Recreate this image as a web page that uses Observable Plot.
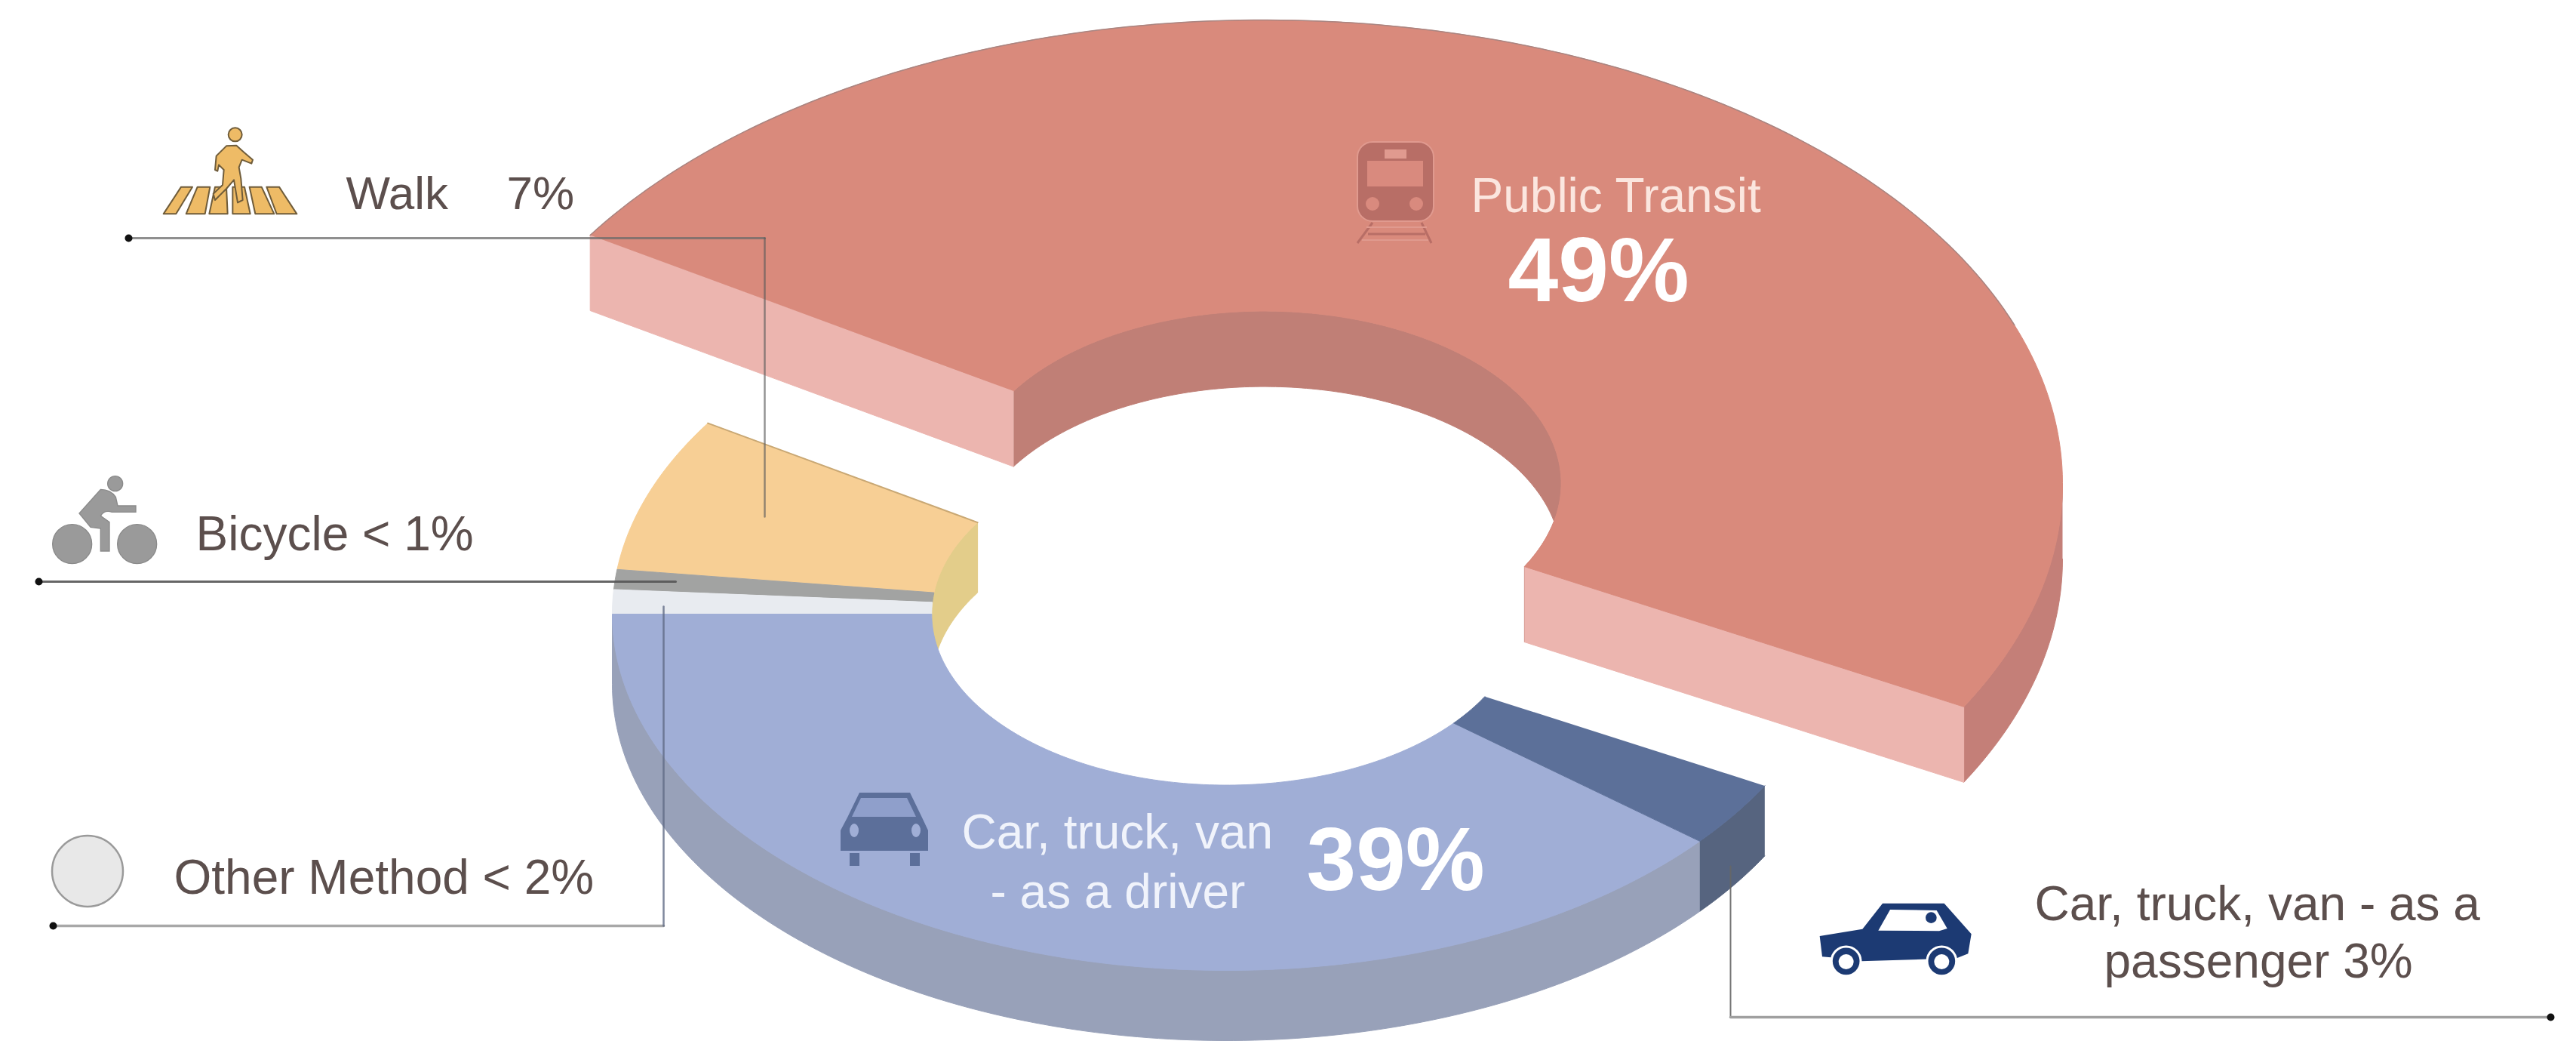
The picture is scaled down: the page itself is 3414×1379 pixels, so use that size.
<!DOCTYPE html>
<html>
<head>
<meta charset="utf-8">
<style>html,body{margin:0;padding:0;background:#fff;overflow:hidden}svg{display:block}</style>
<script src="https://cdn.jsdelivr.net/npm/d3@7"></script>
<script src="https://cdn.jsdelivr.net/npm/@observablehq/plot@0.6"></script>
</head>
<body>
<script>
// ---- chart values (percent of commuters) ----
const modes  = ["Public Transit", "Passenger", "Driver", "Other Method", "Bicycle", "Walk"];
const shares = [49, 3, 39, 1.1, 0.9, 7];

// ---- styles ----
const faceColors = ["#d98a7c", "#5c7099", "#a0aed6", "#e8ebf0", "#a2a3a2", "#f7cf95"];
const wallColors = ["#c47f78", "#56647f", "#98a1b9", null, null, null];
const cutColor = "#ecb5af", innerRedColor = "#c07f76", innerTanColor = "#e3cd8a";
const textDark = "#5c4f4d", font = "Liberation Sans, Arial, sans-serif";

// ---- projection of the two donut pieces ----
const W = 3414, H = 1379;
const startAngle = 212.4;
const topPiece = {cx: 1675, cy: 640, a: 1058, b: 614, hole: 0.372, depth: 100};
const lowPiece = {cx: 1625, cy: 813, a: 814,  b: 472, hole: 0.48,  depth: 93};
const pieceOf = [topPiece, lowPiece, lowPiece, lowPiece, lowPiece, lowPiece];

const total = d3.sum(shares);
const bounds = d3.cumsum(shares).map(c => c / total * 360);
const angles = shares.map((s, i) => [startAngle + (i ? bounds[i - 1] : 0), startAngle + bounds[i]]);

const pt = (p, deg, radius = 1, drop = 0) => {
  const t = deg * Math.PI / 180;
  return {x: p.cx + p.a * radius * Math.cos(t), y: p.cy + p.b * radius * Math.sin(t) + drop};
};
const arc = (p, from, to, radius = 1, drop = 0) => {
  const n = Math.max(2, Math.ceil(Math.abs(to - from)));
  return d3.range(n + 1).map(k => pt(p, from + (to - from) * k / n, radius, drop));
};
const face = i => {
  const p = pieceOf[i], [a0, a1] = angles[i];
  return [...arc(p, a0, a1), ...arc(p, a1, a0, p.hole)];
};
const band = (p, a0, a1, radius) => [...arc(p, a0, a1, radius), ...arc(p, a1, a0, radius, p.depth)];
const cut = (p, deg) => [pt(p, deg, p.hole), pt(p, deg, 1), pt(p, deg, 1, p.depth), pt(p, deg, p.hole, p.depth)];

const [t0, t1] = angles[0];
const polygons = [
  // top piece
  {points: band(topPiece, t0, t1, topPiece.hole), fill: innerRedColor},
  {points: band(topPiece, 360, t1, 1), fill: wallColors[0]},
  {points: cut(topPiece, t0), fill: cutColor},
  {points: cut(topPiece, t1), fill: cutColor},
  {points: face(0), fill: faceColors[0]},
  // lower piece
  {points: band(lowPiece, 180, angles[5][1] - 360, lowPiece.hole), fill: innerTanColor},
  {points: band(lowPiece, angles[1][0] - 360, angles[1][1] - 360, 1), fill: wallColors[1]},
  {points: band(lowPiece, angles[2][0] - 360, 180, 1), fill: wallColors[2]},
  ...[5, 4, 3, 2, 1].map(i => ({points: face(i), fill: faceColors[i]}))
];

// thin darker rims seen along the far edges of the faces
const rims = [
  {points: arc(topPiece, t0, 340), stroke: "#a98581", width: 1.5},
  {points: [pt(lowPiece, angles[5][1] - 360, 1), pt(lowPiece, angles[5][1] - 360, lowPiece.hole)], stroke: "#c9a874", width: 2}
];

// ---- leader lines ----
const leaders = [
  {points: [{x: 170, y: 315}, {x: 1013, y: 315}], stroke: "#6a6a6a", width: 3, opacity: 0.75},
  {points: [{x: 1013, y: 315}, {x: 1013, y: 684}], stroke: "#5a5a5a", width: 2.5, opacity: 0.65},
  {points: [{x: 51, y: 770}, {x: 895, y: 770}], stroke: "#555555", width: 3, opacity: 0.9},
  {points: [{x: 70, y: 1226}, {x: 879, y: 1226}], stroke: "#a8a8a8", width: 3.5, opacity: 1},
  {points: [{x: 879, y: 1226}, {x: 879, y: 803}], stroke: "#5f6a85", width: 2.5, opacity: 0.8},
  {points: [{x: 2293, y: 1147}, {x: 2293, y: 1347}], stroke: "#666666", width: 2, opacity: 0.9},
  {points: [{x: 2293, y: 1347}, {x: 3380, y: 1347}], stroke: "#a0a0a0", width: 3.5, opacity: 1}
];
const leaderDots = [{x: 170, y: 315}, {x: 51, y: 770}, {x: 70, y: 1226}, {x: 3380, y: 1347}];

// ---- labels ----
const labels = [
  {x: 458,  y: 276,  text: "Walk", fill: textDark, size: 62},
  {x: 671,  y: 276,  text: "7%", fill: textDark, size: 62},
  {x: 259,  y: 728,  text: "Bicycle < 1%", fill: textDark, size: 64},
  {x: 230,  y: 1183, text: "Other Method < 2%", fill: textDark, size: 64},
  {x: 2696, y: 1218, text: "Car, truck, van - as a", fill: textDark, size: 64},
  {x: 2788, y: 1294, text: "passenger 3%", fill: textDark, size: 64},
  {x: 1949, y: 280,  text: "Public Transit", fill: "#fbe6df", size: 64},
  {x: 1998, y: 398,  text: "49%", fill: "#ffffff", size: 120, weight: "bold"},
  {x: 1274, y: 1123, text: "Car, truck, van", fill: "#f0f3fb", size: 64},
  {x: 1312, y: 1202, text: "- as a driver", fill: "#f0f3fb", size: 64},
  {x: 1731, y: 1178, text: "39%", fill: "#ffffff", size: 118, weight: "bold"}
];

// ---- pictograms, each a little svg fragment placed through the scales ----
const icons = [
  {x: 200, y: 150, sx: 1/3, sy: 1/3, svg: `
    <g fill="#eebb66" stroke="#6f5c3a" stroke-width="6" stroke-linejoin="round">
      <path d="M120,293L165,293L100,400L50,400Z"/><path d="M185,293L235,293L215,400L140,400Z"/>
      <path d="M255,293L300,293L305,400L232,400Z"/><path d="M325,293L372,293L395,400L325,400Z"/>
      <path d="M392,293L440,293L490,400L415,400Z"/><path d="M460,293L510,293L580,400L500,400Z"/>
      <path d="M300,130L340,128L370,155L405,185L400,200L362,185L350,215L358,260L365,345L345,355L330,265L300,300L255,345L248,320L285,285L290,225L270,205L265,230L255,225L260,170Z"/>
      <circle cx="335" cy="85" r="27"/>
    </g>`},
  {x: 50, y: 620, sx: 1/3, sy: 1/3, svg: `
    <g fill="#9a9a9a" stroke="#8a8a8a" stroke-width="4">
      <circle cx="137" cy="302" r="78"/><circle cx="395" cy="302" r="78"/><circle cx="308" cy="62" r="30"/>
      <path d="M250,85Q290,85 310,115L318,150L390,150L390,175L295,175Q265,165 250,190L285,215L285,330L250,330L250,240L210,235L165,180Z"/>
    </g>`},
  {x: 116, y: 1154, sx: 1, sy: 1, svg: `<ellipse cx="0" cy="0" rx="47" ry="47" fill="#e8e8e8" stroke="#9a9a9a" stroke-width="2.5"/>`},
  {x: 2390, y: 1180, sx: 1/3, sy: 1/3, svg: `
    <path fill="#1c3a73" d="M65,180L235,152L315,50L560,50L668,172L655,250L610,268L230,280L110,265L75,262Z"/>
    <path fill="#fff" d="M298,158L345,75L530,78L572,150L540,160Z"/>
    <circle cx="508" cy="107" r="22" fill="#1c3a73"/>
    <g fill="#1c3a73" stroke="#fff" stroke-width="9">
      <circle cx="170" cy="280" r="58"/><circle cx="550" cy="280" r="58"/>
    </g>
    <circle cx="170" cy="282" r="30" fill="#fff"/><circle cx="550" cy="282" r="30" fill="#fff"/>`},
  {x: 1114, y: 1050, sx: 1, sy: 1, svg: `
    <path fill="#5c6f9a" d="M25,0L92,0L108,33L116,50L116,77L0,77L0,50L9,33Z"/>
    <path fill="#8f9fcb" d="M27,7L88,7L100,32L15,32Z"/>
    <ellipse cx="18" cy="50" rx="6" ry="9" fill="#a0aed6"/><ellipse cx="100" cy="50" rx="6" ry="9" fill="#a0aed6"/>
    <rect x="12" y="80" width="13" height="17" fill="#5c6f9a"/><rect x="92" y="80" width="13" height="17" fill="#5c6f9a"/>`},
  {x: 1799, y: 188, sx: 1, sy: 1, svg: `
    <rect x="0" y="0" width="101" height="105" rx="20" fill="#b86e66" stroke="#e09a8f" stroke-width="2"/>
    <rect x="36" y="10" width="29" height="12" fill="#e09a8f"/>
    <rect x="13" y="25" width="74" height="34" fill="#d98a7e"/>
    <circle cx="20" cy="82" r="9" fill="#d98a7e"/><circle cx="78" cy="82" r="9" fill="#d98a7e"/>
    <g stroke="#b86e66" stroke-width="3" fill="none">
      <path d="M20,107L0,134"/><path d="M85,107L98,134"/><path d="M14,122L90,122"/>
    </g>
    <path d="M12,113L92,113M6,130L94,130" stroke="#e09a8f" stroke-width="2"/>`}
];

const iconMark = (index, scales) => {
  const g = d3.create("svg:g");
  for (const ic of icons) {
    g.append("g")
      .attr("transform", `translate(${scales.x(ic.x)},${scales.y(ic.y)}) scale(${ic.sx},${ic.sy})`)
      .html(ic.svg);
  }
  return g.node();
};

const chart = Plot.plot({
  width: W,
  height: H,
  margin: 0,
  style: {background: "#fff", overflow: "visible"},
  x: {domain: [0, W], range: [0, W], axis: null},
  y: {domain: [0, H], range: [0, H], axis: null},
  marks: [
    ...polygons.map(p => Plot.line(p.points, {x: "x", y: "y", fill: p.fill, stroke: p.fill, strokeWidth: 1})),
    ...rims.map(r => Plot.line(r.points, {x: "x", y: "y", stroke: r.stroke, strokeWidth: r.width})),
    ...leaders.map(l => Plot.line(l.points, {x: "x", y: "y", stroke: l.stroke, strokeWidth: l.width, strokeOpacity: l.opacity})),
    Plot.dot(leaderDots, {x: "x", y: "y", r: 5, fill: "#111", stroke: "none"}),
    iconMark,
    ...labels.map(t => Plot.text([t], {
      x: "x", y: "y", text: "text", fill: t.fill, fontSize: t.size,
      fontFamily: font, fontWeight: t.weight || "normal",
      textAnchor: "start", lineAnchor: "bottom"
    }))
  ]
});
document.body.appendChild(chart);
</script>
</body>
</html>
